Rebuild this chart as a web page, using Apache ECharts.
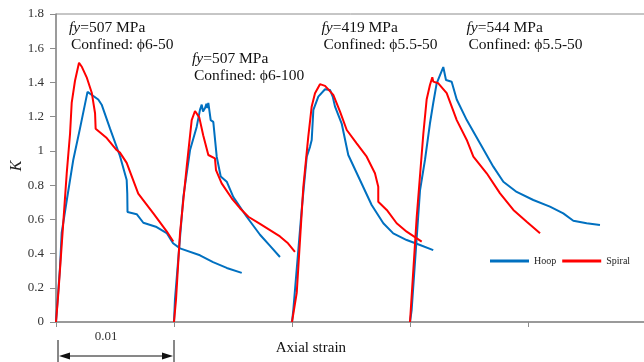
<!DOCTYPE html>
<html><head><meta charset="utf-8">
<script src="https://cdn.jsdelivr.net/npm/echarts@6/dist/echarts.min.js"></script>
<style>html,body{margin:0;padding:0;background:#fff}#c{width:644px;height:362px}</style>
</head><body><div id="c"></div>
<script>
// [axial strain (shifted by 0.01 per specimen), K]
const hoop1 = [[0,0],[0.00034,0.32],[0.00048,0.52],[0.00091,0.71],[0.00147,0.95],[0.00203,1.13],[0.00267,1.345],[0.00358,1.30],[0.00387,1.27],[0.00458,1.13],[0.00542,0.97],[0.00599,0.83],[0.00604,0.75],[0.00606,0.643],[0.00684,0.63],[0.00740,0.58],[0.00853,0.555],[0.00938,0.52],[0.00992,0.46],[0.01051,0.43],[0.01220,0.39],[0.01331,0.35],[0.01447,0.316],[0.01574,0.287]];
const spiral1 = [[0,0],[0.0002,0.17],[0.00091,0.87],[0.00119,1.10],[0.00133,1.28],[0.00161,1.41],[0.00195,1.515],[0.0022,1.49],[0.0026,1.43],[0.00303,1.34],[0.00331,1.22],[0.00336,1.13],[0.0043,1.075],[0.00514,1.005],[0.00542,0.99],[0.00599,0.93],[0.00697,0.75],[0.00825,0.635],[0.00938,0.53],[0.00994,0.47]];
const hoop2 = [[0.01,0],[0.01008,0.13],[0.01079,0.73],[0.01136,1.005],[0.01192,1.14],[0.0122,1.24],[0.01235,1.27],[0.01246,1.23],[0.01263,1.25],[0.01275,1.275],[0.01283,1.25],[0.01291,1.28],[0.01311,1.18],[0.01333,1.17],[0.01362,0.966],[0.01375,0.966],[0.01396,0.85],[0.01447,0.82],[0.01503,0.73],[0.01616,0.615],[0.01729,0.51],[0.01814,0.445],[0.01898,0.38]];
const spiral2 = [[0.01,0],[0.01017,0.13],[0.01051,0.52],[0.01108,0.91],[0.0115,1.18],[0.01178,1.233],[0.01214,1.196],[0.01248,1.09],[0.01291,0.976],[0.01347,0.956],[0.01356,0.888],[0.01404,0.81],[0.01489,0.723],[0.01559,0.665],[0.0163,0.615],[0.01729,0.573],[0.01898,0.50],[0.01966,0.46],[0.02025,0.41]];
const hoop3 = [[0.02,0],[0.02011,0.07],[0.02082,0.655],[0.02125,0.966],[0.02153,1.025],[0.02167,1.064],[0.02181,1.24],[0.02223,1.317],[0.0228,1.36],[0.02322,1.356],[0.02345,1.317],[0.02364,1.26],[0.02421,1.16],[0.02477,0.976],[0.02576,0.83],[0.02675,0.684],[0.02774,0.577],[0.02858,0.518],[0.02972,0.479],[0.03085,0.45],[0.03197,0.42]];
const spiral3 = [[0.02,0],[0.0204,0.17],[0.02096,0.79],[0.02138,1.083],[0.02167,1.26],[0.02195,1.337],[0.02237,1.39],[0.0228,1.38],[0.0235,1.327],[0.02407,1.229],[0.02464,1.122],[0.02548,1.044],[0.02633,0.966],[0.02703,0.869],[0.02731,0.79],[0.02731,0.703],[0.02803,0.655],[0.02887,0.577],[0.02972,0.528],[0.03099,0.47]];
const hoop4 = [[0.03,0],[0.03014,0.07],[0.03085,0.77],[0.03127,0.947],[0.03169,1.16],[0.03197,1.28],[0.03226,1.395],[0.03282,1.49],[0.03305,1.414],[0.03353,1.404],[0.03396,1.30],[0.03481,1.18],[0.03593,1.044],[0.03706,0.908],[0.03791,0.82],[0.03904,0.76],[0.04045,0.713],[0.04186,0.674],[0.04299,0.635],[0.04384,0.592],[0.04497,0.577],[0.04610,0.567]];
const spiral4 = [[0.03,0],[0.03057,0.615],[0.03113,1.10],[0.03141,1.30],[0.03169,1.385],[0.03189,1.43],[0.03197,1.405],[0.0324,1.395],[0.03311,1.337],[0.03396,1.18],[0.03481,1.064],[0.03537,0.966],[0.0365,0.869],[0.03763,0.752],[0.03876,0.655],[0.03989,0.586],[0.04102,0.518]];
const annotations = [
  ['507', 'ϕ6-50'],
  ['507', 'ϕ6-100'],
  ['419', 'ϕ5.5-50'],
  ['544', 'ϕ5.5-50']
];
const seriesNames = ['Hoop', 'Spiral'];

const SERIF = '"Liberation Serif", "Times New Roman", serif';
const BLUE = '#0070C0', RED = '#FF0000';
const chart = echarts.init(document.getElementById('c'), null, {renderer: 'canvas'});
function mk(name, data, color, z) {
  return {name, type: 'line', data, symbol: 'none', showSymbol: false, smooth: false,
    lineStyle: {width: 2, color}, itemStyle: {color}, z, animation: false};
}
chart.setOption({
  animation: false,
  backgroundColor: '#fff',
  grid: {left: 56, right: -2, top: 14, bottom: 40, containLabel: false, outerBoundsMode: 'none',
    show: true, borderColor: '#8c8c8c', borderWidth: 1},
  legend: {data: seriesNames, left: 490, top: 256, padding: 0, icon: 'rect', itemWidth: 39, itemHeight: 3, itemGap: 6,
    textStyle: {fontFamily: SERIF, fontSize: 10, color: '#222'}},
  xAxis: {type: 'value', min: 0, max: 0.05, interval: 0.01,
    axisLine: {lineStyle: {color: '#8c8c8c', width: 1.5}},
    axisTick: {show: true, length: 5, lineStyle: {color: '#8c8c8c'}},
    axisLabel: {show: false}, splitLine: {show: false}},
  yAxis: {type: 'value', min: 0, max: 1.8, interval: 0.2,
    axisLine: {show: true, lineStyle: {color: '#8c8c8c', width: 1.5}},
    axisTick: {show: true, length: 6, lineStyle: {color: '#8c8c8c'}},
    axisLabel: {fontFamily: SERIF, fontSize: 13, color: '#333', margin: 12},
    splitLine: {show: false}},
  series: [
    mk('Hoop', hoop1, BLUE, 2), mk('Hoop', hoop2, BLUE, 2), mk('Hoop', hoop3, BLUE, 2), mk('Hoop', hoop4, BLUE, 2),
    mk('Spiral', spiral1, RED, 3), mk('Spiral', spiral2, RED, 3), mk('Spiral', spiral3, RED, 3), mk('Spiral', spiral4, RED, 3)
  ]
});

const px = v => chart.convertToPixel({xAxisIndex: 0}, v);
const x0 = px(0), x1 = px(0.01);
const annPos = [[69, 32.5], [192, 63.5], [321.5, 32.5], [466.5, 32.5]];
const g = [];
annotations.forEach((a, i) => {
  const [ax, by] = annPos[i];
  g.push({type: 'text', x: ax, y: by - 5, silent: true, style: {
    text: '{i|fy}=' + a[0] + ' MPa', fontFamily: SERIF, fontSize: 15.5, fill: '#111', verticalAlign: 'middle',
    rich: {i: {fontStyle: 'italic', fontFamily: SERIF, fontSize: 15.5, fill: '#111'}}}});
  g.push({type: 'text', x: ax + 2, y: by + 17.5 - 5, silent: true, style: {
    text: 'Confined: ' + a[1], fontFamily: SERIF, fontSize: 15.5, fill: '#111', verticalAlign: 'middle'}});
});
g.push({type: 'text', x: 17, y: 166, rotation: Math.PI / 2, silent: true, style: {
  text: 'K', fontFamily: SERIF, fontStyle: 'italic', fontSize: 16, fill: '#222', align: 'center', verticalAlign: 'middle'}});
const ay = 356, dl = x0 + 2, dr = x1;
g.push({type: 'line', shape: {x1: dl, y1: 340, x2: dl, y2: 362}, style: {stroke: '#111', lineWidth: 1}});
g.push({type: 'line', shape: {x1: dr, y1: 340, x2: dr, y2: 362}, style: {stroke: '#111', lineWidth: 1}});
g.push({type: 'line', shape: {x1: dl + 8, y1: ay, x2: dr - 8, y2: ay}, style: {stroke: '#111', lineWidth: 1}});
g.push({type: 'polygon', shape: {points: [[dl + 1, ay], [dl + 12, ay - 3.5], [dl + 12, ay + 3.5]]}, style: {fill: '#111'}});
g.push({type: 'polygon', shape: {points: [[dr - 1, ay], [dr - 12, ay - 3.5], [dr - 12, ay + 3.5]]}, style: {fill: '#111'}});
g.push({type: 'text', x: x0 + 50, y: 337, style: {text: '0.01', fontFamily: SERIF, fontSize: 13, fill: '#333', align: 'center', verticalAlign: 'middle'}});
g.push({type: 'text', x: px(0.0216), y: 348, style: {text: 'Axial strain', fontFamily: SERIF, fontSize: 15, fill: '#111', align: 'center', verticalAlign: 'middle'}});
chart.setOption({graphic: g});
</script></body></html>
